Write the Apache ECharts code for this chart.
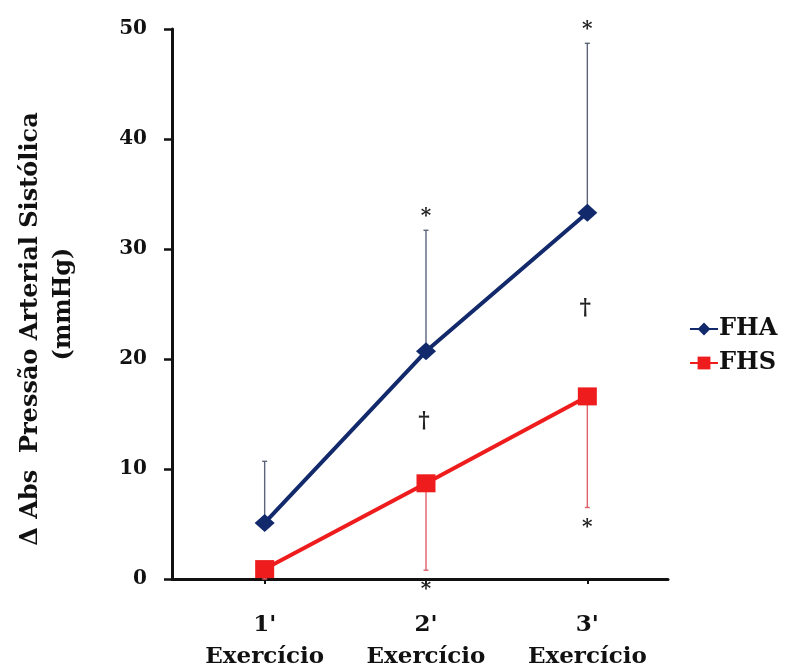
<!DOCTYPE html>
<html>
<head>
<meta charset="utf-8">
<script src="https://cdn.jsdelivr.net/npm/echarts@6/dist/echarts.min.js"></script>
<style>
  html, body { margin: 0; padding: 0; background: #fff; }
  #chart { width: 785px; height: 670px; }
</style>
</head>
<body>
<div id="chart"></div>
<script>
// Time points (minutes of exercise)
const categories = ["1'\nExercício", "2'\nExercício", "3'\nExercício"];

// Mean change in systolic pressure (mmHg) and its SD
const fhaMean = [5.1, 20.7, 33.3];
const fhaSD   = [5.6, 11.0, 15.4];
const fhsMean = [0.9, 8.7, 16.6];
const fhsSD   = [0.9, 7.9, 10.1];

// Significance marks: vs. 1' within each group, and between groups
const fhaSig = ['', '*', '*'];
const fhsSig = ['', '*', '*'];
const groupSig = ['', '†', '†'];

const yTicks = [0, 10, 20, 30, 40, 50];

const FONT = 'DejaVu Serif';
const NAVY = '#12296b';
const RED = '#ee1c1c';

// Error bar (one direction) with optional mark at its free end
function errorBarRender(meanArr, sdArr, sigArr, dir, color, markGap) {
  return function (params, api) {
    const i = api.value(0);
    const m = meanArr[i];
    const s = sdArr[i];
    const p0 = api.coord([i, m]);
    const p1 = api.coord([i, m + dir * s]);
    const cap = 2.5;
    const children = [
      { type: 'line', shape: { x1: p0[0], y1: p0[1], x2: p1[0], y2: p1[1] },
        style: { stroke: color, lineWidth: 1.4 } },
      { type: 'line', shape: { x1: p1[0] - cap, y1: p1[1], x2: p1[0] + cap, y2: p1[1] },
        style: { stroke: color, lineWidth: 1.4 } }
    ];
    if (sigArr[i]) {
      children.push({
        type: 'text',
        style: {
          text: sigArr[i], x: p1[0], y: p1[1] - dir * markGap,
          align: 'center', verticalAlign: 'middle',
          font: 'bold 20px "' + FONT + '"', fill: '#222'
        }
      });
    }
    return { type: 'group', children: children };
  };
}

// Between-group mark centred between the two means
function groupSigRender(params, api) {
  const i = api.value(0);
  if (!groupSig[i]) return { type: 'group', children: [] };
  const a = api.coord([i, fhaMean[i]]);
  const b = api.coord([i, fhsMean[i]]);
  return {
    type: 'text',
    style: {
      text: groupSig[i], x: a[0] - 2, y: (a[1] + b[1]) / 2 + 4,
      align: 'center', verticalAlign: 'middle',
      font: 'bold 22px "' + FONT + '"', fill: '#222'
    }
  };
}

const idx = categories.map((c, i) => [i]);

const chart = echarts.init(document.getElementById('chart'));
chart.setOption({
  backgroundColor: '#ffffff',
  animation: false,
  grid: [
    // data area
    { left: 184, right: 117, top: 29, bottom: 91, containLabel: false, outerBoundsMode: 'none' },
    // axis frame
    { left: 172, right: 117, top: 29, bottom: 91, containLabel: false, outerBoundsMode: 'none' }
  ],
  legend: {
    orient: 'vertical',
    left: 684,
    top: 312,
    itemWidth: 28,
    itemHeight: 16,
    itemGap: 10,
    data: ['FHA', 'FHS'],
    textStyle: { fontFamily: FONT, fontWeight: 'bold', fontSize: 24, color: '#111', padding: [0, 0, 0, -4] }
  },
  xAxis: [
    {
      gridIndex: 0, type: 'category', data: categories,
      axisLine: { show: false },
      axisTick: { show: true, alignWithLabel: true, length: 5, lineStyle: { color: '#111', width: 2 } },
      axisLabel: {
        margin: 30, color: '#111', fontFamily: FONT, fontWeight: 'bold', fontSize: 23, lineHeight: 32
      },
      splitLine: { show: false }
    },
    {
      gridIndex: 1, type: 'category', data: categories,
      axisLine: { show: true, lineStyle: { color: '#111', width: 3 } },
      axisTick: { show: false }, axisLabel: { show: false }, splitLine: { show: false }
    }
  ],
  yAxis: [
    { gridIndex: 0, type: 'value', min: 0, max: 50, interval: 10, show: false },
    {
      gridIndex: 1, type: 'value', min: yTicks[0], max: yTicks[yTicks.length - 1], interval: 10,
      axisLine: { show: true, lineStyle: { color: '#111', width: 3 } },
      axisTick: { show: true, length: 8, lineStyle: { color: '#111', width: 2.5 } },
      axisLabel: { margin: 25, color: '#111', fontFamily: FONT, fontWeight: 'bold', fontSize: 20 },
      splitLine: { show: false },
      name: '{a|Δ Abs  Pressão Arterial Sistólica}\n{b|(mmHg)}',
      nameLocation: 'middle',
      nameRotate: 90,
      nameGap: 92,
      nameTextStyle: {
        color: '#111', fontFamily: FONT, fontWeight: 'bold', fontSize: 24, lineHeight: 33,
        rich: {
          a: { fontFamily: FONT, fontWeight: 'bold', fontSize: 24, lineHeight: 33, color: '#111', padding: [0, 50, 0, 0] },
          b: { fontFamily: FONT, fontWeight: 'bold', fontSize: 24, lineHeight: 33, color: '#111' }
        }
      }
    }
  ],
  series: [
    {
      type: 'custom', name: 'fhaErr', xAxisIndex: 0, yAxisIndex: 0, z: 1, silent: true,
      renderItem: errorBarRender(fhaMean, fhaSD, fhaSig, 1, '#5b6479', 14),
      data: idx
    },
    {
      type: 'custom', name: 'fhsErr', xAxisIndex: 0, yAxisIndex: 0, z: 1, silent: true,
      renderItem: errorBarRender(fhsMean, fhsSD, fhsSig, -1, '#e0606a', 20),
      data: idx
    },
    {
      type: 'custom', name: 'groupSig', xAxisIndex: 0, yAxisIndex: 0, z: 1, silent: true,
      renderItem: groupSigRender,
      data: idx
    },
    {
      name: 'FHA', type: 'line', xAxisIndex: 0, yAxisIndex: 0, z: 3,
      data: fhaMean,
      symbol: 'diamond', symbolSize: [20, 18],
      lineStyle: { color: NAVY, width: 4 },
      itemStyle: { color: NAVY }
    },
    {
      name: 'FHS', type: 'line', xAxisIndex: 0, yAxisIndex: 0, z: 3,
      data: fhsMean,
      symbol: 'rect', symbolSize: [19, 18],
      lineStyle: { color: RED, width: 4 },
      itemStyle: { color: RED }
    }
  ]
});
</script>
</body>
</html>
